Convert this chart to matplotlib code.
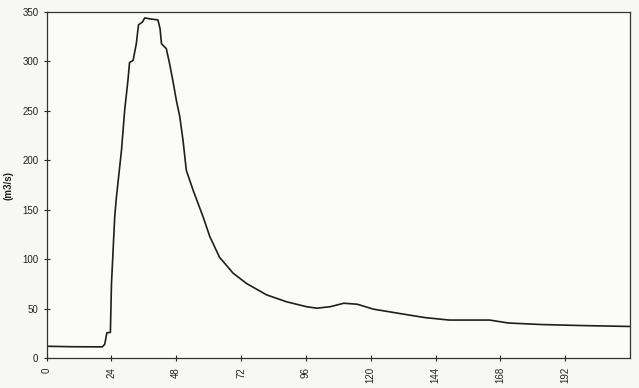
import numpy as np
import matplotlib.pyplot as plt

plt.rcParams['font.family'] = ['Liberation Sans', 'DejaVu Sans']

# hydrograph (hours, m3/s)
hours = [0, 10, 20.6, 21.5, 22.3, 23.6, 24.0, 24.6, 25.2, 25.8, 27.7, 28.9, 30.1, 30.7,
         32.0, 33.2, 34.0, 35.5, 36.3, 38.5, 41.2, 42.0, 42.5, 44.3, 45.5, 46.7, 48.0,
         49.3, 50.5, 51.7, 54.2, 57.9, 60.4, 64.0, 69.0, 74.0, 81.4, 88.8, 96.2, 100.0,
         105.0, 110.0, 115.0, 121.0, 131.0, 140.0, 149.0, 164.0, 171.0, 183.0, 197.0, 216.0]
flow = [12, 11.5, 11.4, 14, 25.6, 26, 75, 109, 143, 162, 210, 251, 281, 299,
        301, 318, 337, 340, 344, 343, 342, 333, 318, 313, 298, 281, 261,
        244, 220, 190, 170, 143, 123, 102, 86, 75.5, 64, 57, 52, 50.5,
        52, 55.5, 54.5, 49.5, 45, 41, 38.5, 38.5, 35.5, 34, 33, 32]

xticks = [0, 24, 48, 72, 96, 120, 144, 168, 192]
yticks = [0, 50, 100, 150, 200, 250, 300, 350]

fig = plt.figure(figsize=(6.39, 3.88), dpi=100, facecolor='#f7f7f3')
ax = fig.add_axes([0.073, 0.077, 0.913, 0.892])
ax.set_facecolor('#fbfbf8')

ax.plot(hours, flow, color='#1e1e1e', lw=1.2)

ax.set_xlim(0, 216)
ax.set_ylim(0, 350)
ax.set_xticks(xticks)
ax.set_yticks(yticks)
ax.set_xticklabels([str(t) for t in xticks], rotation=90)
ax.tick_params(direction='inout', length=5, width=0.8, labelsize=7, colors='#222222')
ax.tick_params(axis='x', pad=4)
ax.set_ylabel('(m3/s)', fontsize=7, fontweight='bold', color='#222222', labelpad=6)

for s in ax.spines.values():
    s.set_color('#333333')
    s.set_linewidth(0.9)

fig.savefig('out.png', dpi=100, facecolor=fig.get_facecolor())
